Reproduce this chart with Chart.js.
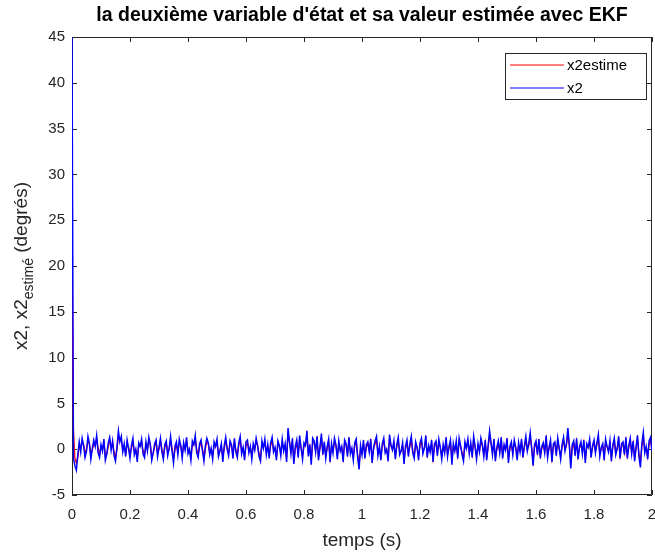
<!DOCTYPE html>
<html>
<head>
<meta charset="utf-8">
<script src="https://cdn.jsdelivr.net/npm/chart.js@4.4.1/dist/chart.umd.min.js"></script>
<style>
    html, body { margin: 0; padding: 0; background: #fff; overflow: hidden; }
    canvas { display: block; }
</style>
</head>
<body>
<canvas id="ekf_chart" width="680" height="554"></canvas>
<script>
// sampling period (s)
const dt = 0.005

// measured state x2 (degrés), one row = 0.1 s
const x2 = [
    45, -1.0, -1.8, -2.3, -0.6, 0.8, -0.3, 1.2, 0.4, -0.9, -0.2, 1.4, 0.6, -1.1, 0.1, 1.0, 0.3, 1.5, -0.4, -0.9,
    0.5, -0.2, 1.1, -1.2, -0.5, 0.7, 1.3, -0.1, 0.9, -0.7, -1.3, 0.2, 2.0, 0.8, 1.4, -0.3, 0.6, -0.8, 1.0, 0.1,
    -1.0, 0.4, 1.2, -0.6, 0.0, -1.4, 0.7, 0.3, 1.1, -0.5, -0.9, 0.8, -0.2, 1.3, 0.5, -1.2, -0.4, 0.6, 1.0, -0.8,
    0.2, 1.2, -0.3, -1.1, 0.5, 0.9, -0.7, 0.1, 1.4, -0.2, -1.5, 0.3, 0.8, -0.6, 1.1, 0.4, -1.0, 0.7, -0.1, 1.3,
    -0.5, 0.0, -1.2, 0.9, 0.5, 1.5, -0.4, -0.9, 0.6, 1.0, -0.2, -1.3, 0.4, 1.2, 0.7, -0.6, 0.1, -1.1, 0.8, 0.3,
    1.1, -0.8, -0.2, 0.6, -1.4, 0.4, 1.3, 0.0, -0.7, 0.9, 0.5, -1.0, 1.2, -0.3, -0.9, 0.7, 1.4, -0.5, 0.2, -1.2,
    0.8, 1.0, -0.4, 0.3, -1.1, 0.6, -0.1, 1.2, 0.4, -0.8, -1.3, 0.9, 0.1, 1.1, -0.6, 0.5, -1.0, 0.7, 1.3, -0.3,
    0.2, -1.2, 0.9, 0.4, -0.7, 1.1, -0.2, 0.6, -1.4, 2.3, 0.8, -0.5, 1.2, -1.6, 0.3, 1.0, -0.9, 1.5, 0.1, -1.1,
    0.7, 0.4, 2.0, -0.8, 0.5, -1.7, 1.2, 0.9, -0.3, 1.4, -1.2, 0.2, 1.7, -0.6, 0.8, -1.0, 0.3, 1.1, -1.4, 0.6,
    -0.4, 1.2, 0.5, -1.1, 0.9, -0.2, 0.3, -1.4, 1.0, 0.6, -0.8, 1.3, -0.5, 0.1, -1.2, 0.7, 1.1, -0.9, -2.2, 0.4,
    -0.6, 1.0, -1.0, 0.5, 0.8, -0.3, 1.1, -1.5, 0.2, 0.9, 1.4, -0.7, 0.3, -1.2, 0.6, 1.2, -0.4, 0.0, -1.3, 1.6,
    0.4, -0.1, 0.9, -1.1, 0.5, 1.3, -0.6, -0.2, 0.7, -1.6, 0.3, 1.0, -0.8, 0.6, 1.4, -0.4, -1.0, 0.8, 0.2, -1.2,
    0.7, 1.2, -0.5, 0.1, 1.5, -0.9, 0.4, -0.3, 1.0, -1.4, 0.6, 0.9, -0.7, 1.1, 0.2, -1.1, 0.5, -0.4, 1.3, -0.8,
    0.3, 1.0, -1.7, 0.6, -0.2, 0.9, -1.0, 1.2, 0.4, -0.6, -1.3, 0.8, 0.1, 1.1, -0.5, 0.7, -0.9, 1.4, 0.3, -1.1,
    0.6, -0.3, 1.2, 0.5, -0.8, 1.0, -1.2, 0.4, 2.0, 0.7, -0.6, 1.1, -1.3, 0.2, 0.9, -0.4, 1.3, -1.0, 0.5, -0.1,
    1.2, -1.5, 0.3, 0.8, -0.6, 1.0, 0.2, -1.2, 0.7, -0.3, 1.1, -0.9, 0.4, 1.4, -0.2, 0.6, 1.8, 0.1, -1.8, 0.5,
    0.9, -0.6, 1.1, -1.0, 0.3, 0.7, -0.4, 1.5, -0.9, 0.2, 1.0, -1.4, 0.6, 0.8, -0.7, 1.2, 0.1, -1.1, 0.5, 1.3,
    -0.2, 0.6, 2.3, 0.4, -2.1, 0.5, 0.9, -0.7, 1.2, -1.1, 0.3, 0.8, -0.5, 1.0, -1.5, 0.6, 0.2, 1.1, -0.9, 0.4,
    1.0, -0.4, 0.7, 1.6, -0.8, 0.2, 0.6, -1.2, 1.1, 0.3, -0.3, 0.9, -1.3, 0.5, 1.2, -0.6, 0.1, 1.4, -1.0, 0.6,
    0.8, -0.6, 1.3, -1.0, 0.4, 1.2, -0.5, 0.9, -1.3, 0.2, 1.5, -0.8, -2.0, 0.6, 1.8, -0.4, 0.3, -1.1, 0.9, 1.3,
    -0.2,
]

// EKF estimate of x2 (degrés), one row = 0.1 s
const x2estime = [
    18, 2.0, -1.0, -1.5, -0.9, 0.3, 0.1, 0.7, 0.5, -0.4, 0.0, 0.9, 0.6, -0.6, -0.1, 0.6, 0.4, 1.1, 0.2, -0.6,
    0.2, 0.0, 0.7, -0.7, -0.5, 0.3, 0.9, 0.2, 0.6, -0.3, -0.9, 0.0, 1.4, 0.9, 1.0, 0.0, 0.3, -0.5, 0.6, 0.2,
    -0.6, 0.1, 0.8, -0.2, -0.1, -0.9, 0.3, 0.3, 0.8, -0.2, -0.6, 0.4, 0.0, 0.9, 0.5, -0.7, -0.5, 0.3, 0.7, -0.4,
    0.0, 0.8, 0.0, -0.7, 0.2, 0.6, -0.3, 0.0, 0.9, 0.1, -1.0, -0.1, 0.5, -0.3, 0.7, 0.4, -0.6, 0.3, 0.0, 0.9,
    -0.1, -0.1, -0.8, 0.4, 0.5, 1.0, 0.0, -0.6, 0.3, 0.7, 0.0, -0.9, 0.1, 0.8, 0.6, -0.3, 0.0, -0.7, 0.4, 0.3,
    0.7, -0.4, -0.2, 0.3, -0.9, 0.1, 0.9, 0.2, -0.4, 0.5, 0.4, -0.6, 0.8, 0.0, -0.6, 0.4, 1.0, -0.1, 0.1, -0.8,
    0.4, 0.7, -0.1, 0.2, -0.7, 0.3, 0.0, 0.8, 0.4, -0.5, -0.9, 0.5, 0.2, 0.7, -0.3, 0.3, -0.6, 0.4, 0.9, 0.0,
    0.1, -0.8, 0.5, 0.4, -0.4, 0.7, 0.0, 0.4, -0.9, 1.6, 0.8, -0.2, 0.8, -1.1, 0.0, 0.7, -0.5, 1.0, 0.2, -0.7,
    0.4, 0.4, 1.5, -0.3, 0.3, -1.2, 0.7, 0.7, -0.1, 1.0, -0.8, 0.1, 1.2, -0.3, 0.5, -0.7, 0.1, 0.8, -1.0, 0.3,
    -0.2, 0.8, 0.4, -0.7, 0.5, 0.0, 0.2, -1.0, 0.6, 0.5, -0.5, 0.9, -0.2, 0.0, -0.8, 0.4, 0.8, -0.6, -1.6, 0.0,
    -0.4, 0.6, -0.7, 0.2, 0.6, -0.1, 0.8, -1.0, 0.0, 0.6, 1.0, -0.4, 0.1, -0.8, 0.3, 0.9, -0.2, 0.0, -0.9, 1.1,
    0.4, 0.0, 0.6, -0.7, 0.3, 0.9, -0.3, -0.2, 0.4, -1.1, 0.0, 0.7, -0.5, 0.3, 1.0, -0.2, -0.7, 0.5, 0.2, -0.8,
    0.4, 0.9, -0.2, 0.1, 1.1, -0.6, 0.2, -0.2, 0.7, -1.0, 0.3, 0.7, -0.4, 0.8, 0.2, -0.7, 0.3, -0.2, 0.9, -0.5,
    0.1, 0.7, -1.2, 0.3, -0.1, 0.6, -0.7, 0.8, 0.3, -0.4, -0.9, 0.5, 0.1, 0.8, -0.3, 0.4, -0.6, 1.0, 0.2, -0.8,
    0.3, -0.2, 0.8, 0.4, -0.5, 0.7, -0.8, 0.2, 1.5, 0.6, -0.4, 0.7, -0.9, 0.0, 0.6, -0.2, 0.9, -0.7, 0.3, 0.0,
    0.8, -1.0, 0.1, 0.5, -0.4, 0.7, 0.2, -0.8, 0.4, -0.1, 0.8, -0.6, 0.2, 1.0, 0.0, 0.4, 1.3, 0.2, -1.3, 0.2,
    0.6, -0.4, 0.7, -0.7, 0.1, 0.5, -0.2, 1.1, -0.6, 0.1, 0.7, -1.0, 0.3, 0.6, -0.4, 0.8, 0.1, -0.7, 0.3, 0.9,
    0.0, 0.4, 1.7, 0.4, -1.5, 0.2, 0.6, -0.4, 0.8, -0.8, 0.1, 0.5, -0.3, 0.7, -1.1, 0.3, 0.2, 0.8, -0.6, 0.2,
    0.7, -0.2, 0.5, 1.2, -0.5, 0.1, 0.4, -0.8, 0.7, 0.3, -0.2, 0.6, -0.9, 0.3, 0.9, -0.4, 0.0, 1.0, -0.7, 0.4,
    0.5, -0.4, 0.9, -0.7, 0.2, 0.8, -0.3, 0.6, -0.9, 0.1, 1.1, -0.5, -1.4, 0.3, 1.3, -0.2, 0.1, -0.8, 0.6, 0.9,
    -0.1,
]

const xTicks = [0, 0.2, 0.4, 0.6, 0.8, 1, 1.2, 1.4, 1.6, 1.8, 2]
const yTicks = [-5, 0, 5, 10, 15, 20, 25, 30, 35, 40, 45]

const AXIS_COLOR = "#262626"
const FONT = "Liberation Sans, Arial, sans-serif"

function points(values) {
    return values.map((v, i) => ({ x: +(i * dt).toFixed(3), y: v }))
}

// matlab-like box with inward ticks on all four sides
const axesBox = {
    id: "axesBox",
    beforeDatasetsDraw(chart) {
        const { ctx, chartArea: a, scales } = chart
        const len = 5
        ctx.save()
        ctx.strokeStyle = AXIS_COLOR
        ctx.lineWidth = 1
        ctx.beginPath()
        ctx.rect(a.left + 0.5, a.top + 0.5, a.right - a.left - 1, a.bottom - a.top - 1)
        for (const t of xTicks) {
            const px = Math.round(scales.x.getPixelForValue(t)) + 0.5
            ctx.moveTo(px, a.bottom)
            ctx.lineTo(px, a.bottom - len)
            ctx.moveTo(px, a.top)
            ctx.lineTo(px, a.top + len)
        }
        for (const t of yTicks) {
            const py = Math.round(scales.y.getPixelForValue(t)) + 0.5
            ctx.moveTo(a.left, py)
            ctx.lineTo(a.left + len, py)
            ctx.moveTo(a.right, py)
            ctx.lineTo(a.right - len, py)
        }
        ctx.stroke()
        ctx.restore()
    },
}

// title centred over the plot box
const plotTitle = {
    id: "plotTitle",
    afterDraw(chart) {
        const { ctx, chartArea: a } = chart
        ctx.save()
        ctx.fillStyle = "#000"
        ctx.font = "bold 19.5px " + FONT
        ctx.textAlign = "center"
        ctx.textBaseline = "middle"
        ctx.fillText("la deuxième variable d'état et sa valeur estimée avec EKF", (a.left + a.right) / 2, 16)
        ctx.restore()
    },
}

// y label with the "estimé" subscript
const yLabel = {
    id: "yLabel",
    afterDraw(chart) {
        const { ctx, chartArea: a } = chart
        const parts = [
            { text: "x2, x2", font: "19px " + FONT, dy: 0 },
            { text: "estimé", font: "14px " + FONT, dy: 6 },
            { text: " (degrés)", font: "19px " + FONT, dy: 0 },
        ]
        ctx.save()
        ctx.fillStyle = AXIS_COLOR
        let total = 0
        for (const p of parts) {
            ctx.font = p.font
            p.w = ctx.measureText(p.text).width
            total += p.w
        }
        ctx.translate(0, (a.top + a.bottom) / 2)
        ctx.rotate(-Math.PI / 2)
        ctx.textBaseline = "alphabetic"
        let x = -total / 2
        for (const p of parts) {
            ctx.font = p.font
            ctx.fillText(p.text, x, 27 + p.dy)
            x += p.w
        }
        ctx.restore()
    },
}

// legend box in the upper right corner
const cornerLegend = {
    id: "cornerLegend",
    afterDatasetsDraw(chart) {
        const { ctx } = chart
        const entries = [
            { label: "x2estime", color: "#ff0000" },
            { label: "x2", color: "#0000ff" },
        ]
        const left = 505, top = 53, w = 141, h = 46
        ctx.save()
        ctx.fillStyle = "#fff"
        ctx.fillRect(left, top, w, h)
        ctx.strokeStyle = AXIS_COLOR
        ctx.lineWidth = 1
        ctx.strokeRect(left + 0.5, top + 0.5, w, h)
        ctx.font = "15px " + FONT
        ctx.textBaseline = "middle"
        entries.forEach((e, i) => {
            const y = top + 12 + i * 23
            ctx.strokeStyle = e.color
            ctx.beginPath()
            ctx.moveTo(left + 5, y)
            ctx.lineTo(left + 59, y)
            ctx.stroke()
            ctx.fillStyle = "#000"
            ctx.fillText(e.label, left + 62, y + 1)
        })
        ctx.restore()
    },
}

new Chart(document.getElementById("ekf_chart"), {
    type: "line",
    data: {
        datasets: [
            {
                label: "x2estime",
                data: points(x2estime),
                borderColor: "#ff0000",
                borderWidth: 1.3,
                pointRadius: 0,
                order: 2,
            },
            {
                label: "x2",
                data: points(x2),
                borderColor: "#0000ff",
                borderWidth: 1.5,
                pointRadius: 0,
                order: 1,
            },
        ],
    },
    options: {
        responsive: false,
        animation: false,
        layout: {
            padding: { left: 0, right: 28, top: 37, bottom: 0 },
        },
        scales: {
            x: {
                type: "linear",
                min: 0,
                max: 2,
                afterBuildTicks: (scale) => {
                    scale.ticks = xTicks.map((v) => ({ value: v }))
                },
                afterFit: (scale) => {
                    scale.height = 59
                },
                grid: { display: false, drawTicks: false },
                border: { display: false },
                ticks: {
                    color: AXIS_COLOR,
                    font: { family: FONT, size: 15 },
                    padding: 11,
                    maxRotation: 0,
                    autoSkip: false,
                    callback: (v) => String(v),
                },
                title: {
                    display: true,
                    text: "temps (s)",
                    color: AXIS_COLOR,
                    font: { family: FONT, size: 19 },
                    padding: { top: 2, bottom: 2 },
                },
            },
            y: {
                min: -5,
                max: 45,
                afterBuildTicks: (scale) => {
                    scale.ticks = yTicks.map((v) => ({ value: v }))
                },
                afterFit: (scale) => {
                    scale.width = 72
                },
                grid: { display: false, drawTicks: false },
                border: { display: false },
                ticks: {
                    color: AXIS_COLOR,
                    font: { family: FONT, size: 15 },
                    padding: 7,
                    autoSkip: false,
                },
            },
        },
        plugins: {
            legend: { display: false },
            tooltip: { enabled: false },
            title: { display: false },
        },
    },
    plugins: [axesBox, plotTitle, yLabel, cornerLegend],
})
</script>
</body>
</html>
